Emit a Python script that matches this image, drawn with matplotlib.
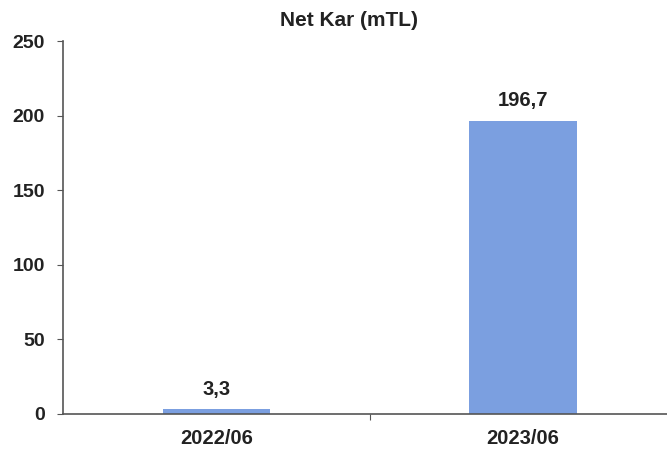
import matplotlib.pyplot as plt

periods = ['2022/06', '2023/06']
net_kar = [3.3, 196.7]
value_labels = ['3,3', '196,7']

plt.rcParams['font.family'] = ['Liberation Sans', 'DejaVu Sans']
plt.rcParams['font.weight'] = 'bold'

fig = plt.figure(figsize=(6.67, 4.59), dpi=100)
ax = fig.add_axes([63 / 667, 45 / 459, 613.5 / 667, 373 / 459])

pos = range(len(periods))
ax.bar(pos, net_kar, width=0.35, color='#7b9fe0', zorder=2)
for p, v, lab in zip(pos, net_kar, value_labels):
    ax.text(p, v + 7, lab, ha='center', va='bottom', fontsize=14.5, fontweight='bold', color='#222222')

ax.set_xlim(-0.5, 1.5)
ax.set_ylim(0, 250)
ax.set_yticks([0, 50, 100, 150, 200, 250])
ax.set_xticks([0.5], minor=False)
ax.set_xticklabels([''])
ax.set_xticks(list(pos), minor=True)
ax.set_xticklabels(periods, minor=True)
ax.tick_params(axis='x', which='major', length=4, direction='out', color='#555555')
ax.tick_params(axis='x', which='minor', length=0, pad=11, labelsize=14.5, labelcolor='#222222')
ax.tick_params(axis='y', length=4, direction='out', color='#555555', pad=9, labelsize=14, labelcolor='#222222')
for lab in ax.get_xticklabels(minor=True) + ax.get_yticklabels():
    lab.set_fontweight('bold')

for side in ['top', 'right']:
    ax.spines[side].set_visible(False)
for side in ['left', 'bottom']:
    ax.spines[side].set_color('#555555')
    ax.spines[side].set_linewidth(1.2)

fig.text(349 / 667, 1 - 20 / 459, 'Net Kar (mTL)', ha='center', va='center', fontsize=15, fontweight='bold', color='#222222')

fig.savefig('out.png', dpi=100)
